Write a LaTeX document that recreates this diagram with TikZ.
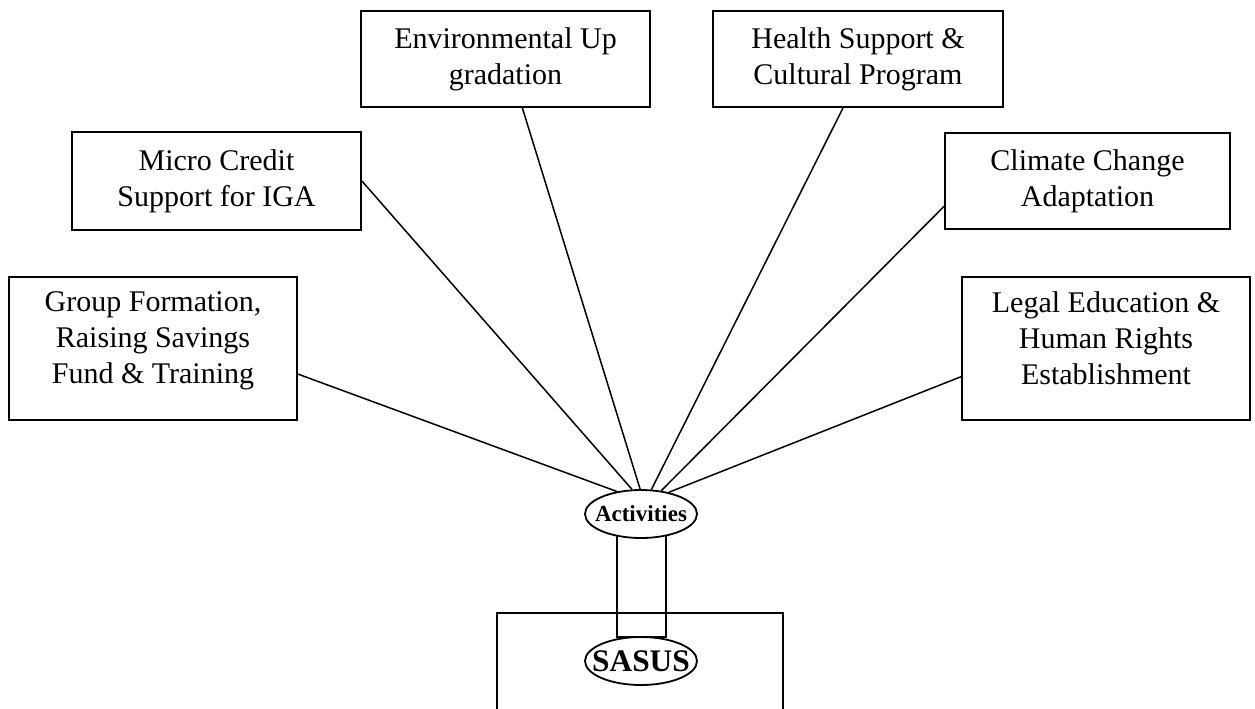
\documentclass[tikz,border=0pt]{standalone}
\usepackage{fontspec}
\setmainfont{Liberation Serif}
\usetikzlibrary{shapes.geometric}
\tikzset{
  actbox/.style={draw, line width=0.9pt, align=center, inner sep=0pt,
                 font=\fontsize{15}{18}\selectfont},
  hub/.style={ellipse, draw, line width=0.9pt, fill=white, inner xsep=-6pt,
              inner ysep=0pt, minimum width=56pt, minimum height=24pt},
  spoke/.style={line width=0.75pt},
}

\begin{document}
\begin{tikzpicture}[x=0.5pt,y=-0.5pt]
  \clip (0,0) rectangle (1255,708);

  % activity boxes
  \node[actbox, minimum width=144pt, minimum height=71.5pt, text depth=11pt] (grp) at (153,348.5)
    {Group Formation,\\ Raising Savings\\ Fund \& Training};
  \node[actbox, minimum width=144.5pt, minimum height=49pt] (mcr) at (216.5,181)
    {Micro Credit\\ Support for IGA};
  \node[actbox, minimum width=144.5pt, minimum height=48pt] (env) at (505.5,59)
    {Environmental Up\\ gradation};
  \node[actbox, minimum width=145pt, minimum height=48pt] (hlt) at (858,59)
    {Health Support \&\\ Cultural Program};
  \node[actbox, minimum width=142.5pt, minimum height=48pt] (clm) at (1087.5,181)
    {Climate Change\\ Adaptation};
  \node[actbox, minimum width=144pt, minimum height=71.5pt, text depth=10pt] (lgl) at (1106,348.5)
    {Legal Education \&\\ Human Rights\\ Establishment};

  % organisation box and link
  \node[draw, line width=0.9pt, minimum width=143pt, minimum height=75pt] (org) at (640,688) {};
  \node[draw, line width=0.9pt, minimum width=24.5pt, minimum height=53.5pt] (pipe) at (641.5,583.5) {};

  \node[hub, font=\fontsize{11.5}{13}\selectfont\bfseries] (act) at (641,514) {Activities};
  \node[hub, font=\fontsize{15.7}{18}\selectfont\bfseries] (sasus) at (641,661) {SASUS};

  \draw[spoke] (grp.-10.4) -- (act.137.5);
  \draw[spoke] (mcr.east) -- (act.110.6);
  \draw[spoke] (env.-71) -- (act.92);
  \draw[spoke] (hlt.-107.4) -- (act.67.4);
  \draw[spoke] (clm.-170.4) -- (act.49.2);
  \draw[spoke] (lgl.-169.6) -- (act.38.9);
\end{tikzpicture}
\end{document}
